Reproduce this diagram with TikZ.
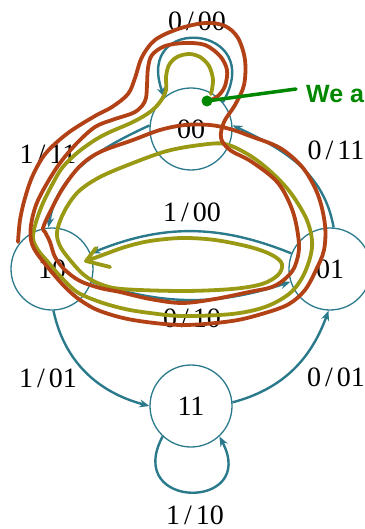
\documentclass[tikz,border=0pt]{standalone}
\usepackage{fontspec}
\setmainfont{Liberation Serif}
\newfontfamily\notefont{Liberation Sans}
\usetikzlibrary{arrows.meta}
\definecolor{edgeblue}{RGB}{42,122,140}
\definecolor{penrust}{RGB}{178,66,22}
\definecolor{penolive}{RGB}{153,153,20}
\definecolor{pengreen}{RGB}{0,135,0}
\newcommand\trlabel[2]{#1\kern4pt/\kern4pt#2}
\begin{document}
\begin{tikzpicture}[x=1pt,y=1pt,
  state/.style={circle, draw=edgeblue, line width=1.3pt, minimum size=82pt,
    inner sep=0pt, font=\fontsize{28}{30}\selectfont},
  edge/.style={draw=edgeblue, line width=2.4pt, -{Stealth[length=10pt,width=8pt]}},
  lbl/.style={font=\fontsize{28}{30}\selectfont, inner sep=0pt},
  rustpen/.style={draw=penrust, line width=3.8pt, line cap=round, line join=round},
  olivepen/.style={draw=penolive, line width=3.8pt, line cap=round, line join=round}]
\useasboundingbox (0,0) rectangle (364,-529);

% states
\node[state] (n00) at (191,-129) {00};
\node[state] (n10) at (52,-269) {10};
\node[state] (n01) at (330,-269) {01};
\node[state] (n11) at (191,-406) {11};

% transitions
\draw[edge] (n00.40) .. controls +(60:90) and +(110:90) .. (n00.130);
\draw[edge] (n00.175) to[out=205,in=80] (n10.95);
\draw[edge] (n01.85) to[out=100,in=-25] (n00.5);
\draw[edge] (n01) to[bend right=22] (n10);
\draw[edge] (n10) to[bend right=18] (n01);
\draw[edge] (n10.272) to[out=-78,in=165] (n11.180);
\draw[edge] (n11.5) to[out=15,in=-110] (n01.268);
\draw[edge] (n11.227) .. controls +(242:84) and +(298:84) .. (n11.313);

% transition labels
\node[lbl] (l0000) at (197,-21) {\trlabel{0}{00}};
\node[lbl] (l1011) at (48,-154) {\trlabel{1}{11}};
\node[lbl] (l0011) at (336,-150) {\trlabel{0}{11}};
\node[lbl] (l1000) at (192,-212) {\trlabel{1}{00}};
\node[lbl] (l0010) at (192,-318) {\trlabel{0}{10}};
\node[lbl] (l1001) at (48,-378) {\trlabel{1}{01}};
\node[lbl] (l0001) at (336,-377) {\trlabel{0}{01}};
\node[lbl] (l1010) at (195,-515) {\trlabel{1}{10}};

% hand-drawn olive trace
\draw[olivepen] plot[smooth, tension=0.55] coordinates {
 (211,-94) (213,-80) (209,-66) (200,-57) (189,-54) (177,-57) (169,-65) (166,-77)
 (166,-90) (160,-102) (150,-112) (133,-122) (110,-132) (95,-140) (77,-153)
 (62,-168) (52,-185) (43,-203) (36,-222) (33,-238) (38,-250) (48,-262) (60,-276)
 (77,-292) (100,-302) (125,-309) (150,-313) (182,-316) (232,-314) (265,-307)
 (289,-294) (302,-278) (310,-258) (312,-240) (306,-218) (290,-192) (270,-171)
 (249,-155) (225,-144) (200,-145) (167,-151) (133,-163) (100,-177) (78,-192)
 (64,-212) (57,-232) (60,-246) (70,-260) (84,-275) (100,-284) (122,-289)
 (182,-291) (232,-289) (262,-284) (278,-275) (282,-264) (272,-255) (250,-247)
 (215,-240) (182,-238) (150,-241) (125,-247) (100,-256) (86,-261)};
\draw[olivepen] (96,-248) -- (86,-261) -- (110,-267);

% hand-drawn rust trace
\draw[rustpen] plot[smooth, tension=0.55] coordinates {
 (209,-101) (218,-96) (225,-86) (227,-70) (220,-56) (205,-45) (185,-43) (165,-46)
 (152,-55) (148,-68) (147,-85) (146,-98) (142,-106) (133,-113) (112,-120)
 (95,-127) (77,-143) (60,-163) (46,-185) (36,-205) (31,-225) (31,-240) (36,-252)
 (50,-270) (65,-287) (80,-300) (100,-311) (133,-320) (182,-325) (232,-321)
 (265,-313) (289,-304) (305,-290) (316,-270) (324,-250) (325,-225) (318,-195)
 (303,-168) (280,-148) (250,-136) (230,-129) (210,-125) (185,-125) (160,-130)
 (133,-140) (100,-152) (80,-166) (63,-188) (50,-212) (43,-228) (45,-232)
 (50,-242) (55,-257) (65,-270) (80,-281) (100,-288) (120,-292) (150,-299)
 (182,-303) (215,-299) (249,-292) (272,-287) (286,-278) (295,-266) (299,-245)
 (293,-212) (278,-183) (252,-162) (230,-150) (221,-138) (224,-122) (235,-105)
 (244,-85) (245,-60) (238,-38) (225,-26) (205,-23) (178,-29) (155,-40)
 (142,-57) (135,-78) (128,-94) (112,-107) (95,-116) (68,-133) (46,-153)
 (33,-175) (25,-198) (20,-220) (18,-242)};

% pointer note
\node[circle, fill=pengreen, minimum size=11pt, inner sep=0pt] (dot) at (207,-101) {};
\coordinate (noteend) at (296,-89);
\draw[pengreen, line width=3.5pt, line cap=round] (dot.center) -- (noteend);
\node[anchor=base west, inner sep=0pt, text=pengreen,
  font=\notefont\bfseries\fontsize{25}{28}\selectfont] (note) at (306,-103) {We a};
\end{tikzpicture}
\end{document}
